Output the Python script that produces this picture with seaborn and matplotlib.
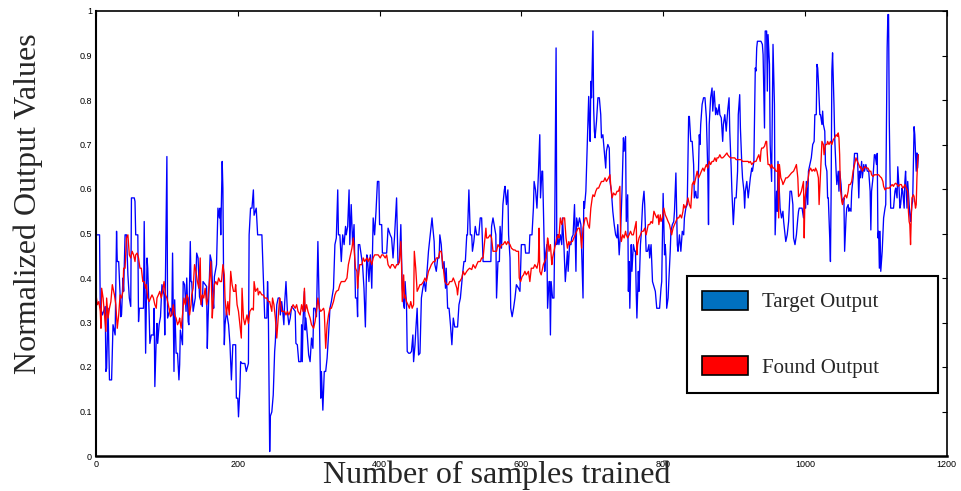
import matplotlib
matplotlib.use("Agg")
import matplotlib.pyplot as plt
from matplotlib.patches import Patch
import pandas as pd
import seaborn as sns

# Target output (network training targets), sample index -> normalized value
target_samples = [
    0, 5, 6, 9, 13, 14, 15, 17, 19, 22,
    24, 27, 29, 30, 32, 34, 35, 36, 38, 39,
    41, 43, 45, 47, 49, 50, 54, 55, 56, 59,
    60, 61, 67, 68, 70, 72, 73, 75, 76, 78,
    81, 82, 83, 85, 86, 87, 89, 91, 93, 96,
    97, 100, 101, 103, 105, 107, 108, 110, 111, 113,
    115, 117, 118, 119, 122, 123, 125, 127, 128, 130,
    131, 133, 134, 135, 137, 140, 142, 144, 146, 150,
    151, 156, 157, 158, 161, 163, 165, 166, 167, 170,
    172, 174, 175, 176, 178, 179, 180, 181, 182, 184,
    187, 189, 191, 193, 197, 198, 200, 201, 203,
    204, 206, 210, 212, 215, 216, 218, 220, 222, 223,
    226, 228, 234, 236, 238, 241, 242, 243, 245, 246,
    248, 250, 252, 253, 255, 257, 259, 260, 262, 263,
    265, 266, 268, 270, 272, 274, 276, 278, 281, 282,
    284, 286, 289, 290, 291, 292, 294, 295, 296, 298,
    300, 302, 304, 306, 307, 309, 311, 313, 315, 317,
    318, 320, 322, 324, 326, 328, 330, 332, 335, 337,
    339, 341, 342, 344, 346, 348, 350, 352, 353, 355,
    357, 358, 360, 362, 364, 366, 368, 369, 370, 372,
    374, 376, 378, 380, 382, 383, 385, 387, 389, 391,
    393, 395, 397, 399, 400,
    403, 404, 410, 412, 415, 417, 419, 421, 424, 426,
    428, 430, 432, 434, 435, 436, 438, 439, 441, 443,
    445, 447, 448, 450, 451, 453, 455, 457, 459, 461,
    463, 465, 467, 469, 471, 474, 475, 477, 478, 480,
    482, 484, 485, 487, 489, 491, 493, 494, 496, 498,
    500, 502, 504, 506, 510, 512, 514, 517, 519, 521,
    523, 524, 526, 528, 530, 531, 533, 535, 537, 540,
    542, 544, 546, 557, 558, 560, 562, 564, 565, 567,
    569, 570, 572, 574, 576, 577, 579, 581, 582, 584,
    585, 587, 589, 591, 593, 596, 598,
    600, 605, 606, 611, 612, 615, 617, 618, 620, 622,
    624, 626, 627, 629, 630, 632, 633, 634, 636, 637,
    639, 640, 641, 642, 644, 646, 647, 649, 650, 651,
    653, 655, 657, 658, 660, 662, 663, 665, 666, 668,
    670, 671, 673, 675, 677, 678, 680, 682, 684, 685,
    687, 688, 689, 691, 693, 695, 696, 697, 698, 699,
    701, 702, 703, 704, 706, 708, 710, 712, 713, 715,
    717, 719, 720, 722, 724, 725, 727, 729, 731, 733,
    735, 736, 738, 740, 742, 744, 745, 747, 748, 750,
    751, 752, 753, 755, 756, 758, 760, 761, 762, 763,
    765, 766, 768, 769, 771, 773, 774, 776, 778, 780,
    781, 783, 785, 789, 791, 795,
    797, 798, 800, 802, 803, 804, 805, 807, 808, 810,
    811, 813, 815, 816, 818, 820, 821, 823, 825, 827,
    829, 830, 832, 834, 836, 837, 839, 841, 843, 844,
    846, 847, 849, 851, 852, 853, 855, 857, 859, 861,
    863, 864, 865, 867, 869, 870, 872, 874, 875, 877,
    879, 880, 882, 884, 885, 887, 889, 891, 893, 894,
    896, 897, 899, 901, 903, 905, 906, 908, 909, 911,
    912, 914, 915, 916, 918, 920, 921, 923, 925, 926,
    928, 930, 931, 932, 933, 935, 937, 938, 940, 941,
    943, 944, 946, 947, 948, 950, 951, 953, 954, 955,
    957, 958, 960, 961, 962, 964, 965, 967, 969, 970,
    972, 973, 975, 977, 979, 981, 983, 984, 986, 988,
    990, 991,
    992, 996, 998, 999, 1001, 1002, 1004, 1005, 1007, 1009,
    1011, 1013, 1014, 1016, 1017, 1018, 1019, 1021, 1022, 1024,
    1025, 1026, 1028, 1029, 1031, 1032, 1033, 1035, 1036, 1037,
    1038, 1039, 1041, 1042, 1044, 1045, 1047, 1048, 1049, 1051,
    1052, 1054, 1055, 1056, 1058, 1059, 1061, 1062, 1063, 1065,
    1066, 1068, 1070, 1074, 1076, 1077, 1078, 1080, 1081, 1083,
    1084, 1086, 1088, 1090, 1092, 1093, 1094, 1096, 1098, 1099,
    1101, 1102, 1103, 1104, 1105, 1106, 1107, 1109, 1110, 1111,
    1113, 1114, 1116, 1117, 1118, 1119, 1120, 1121, 1123, 1125,
    1127, 1128, 1130, 1131, 1133, 1134, 1135, 1137, 1138, 1140,
    1141, 1142, 1144, 1145, 1147, 1148, 1149, 1151, 1152, 1154,
    1155, 1157, 1158, 1159, 1160,
]
target_values = [
    .497, .497, .336, .317, .336, .19, .197, .332, .171, .171,
    .295, .272, .505, .437, .437, .362, .313, .317, .40, .37,
    .497, .497, .407, .355, .336, .58, .58, .572, .497, .497,
    .302, .332, .332, .527, .231, .445, .422, .317, .253, .272,
    .272, .332, .156, .265, .298, .253, .295, .313, .385, .362,
    .272, .673, .31, .321, .332, .317, .456, .19, .351, .231,
    .231, .171, .205, .283, .25, .392, .385, .325, .40, .302,
    .295, .482, .392, .392, .325, .355, .456, .445, .358, .336,
    .392, .381, .242, .302, .452, .437, .355, .332, .403, .43,
    .557, .535, .557, .497, .662, .602, .392, .25, .295, .325,
    .295, .25, .171, .25, .25, .13, .13, .088, .152,
    .212, .208, .208, .19, .208, .497, .557, .557, .598, .541,
    .557, .497, .497, .40, .31, .31, .392, .34, .01, .09,
    .099, .137, .235, .257, .34, .355, .355, .317, .347, .332,
    .295, .34, .392, .325, .295, .31, .336, .332, .325, .253,
    .25, .212, .212, .295, .212, .302, .37, .283, .31, .272,
    .227, .212, .265, .242, .332, .332, .313, .482, .325, .13,
    .19, .103, .19, .19, .22, .272, .332, .347, .377, .475,
    .49, .598, .497, .497, .437, .497, .475, .516, .497, .516,
    .598, .475, .565, .475, .52, .355, .355, .313, .475, .475,
    .452, .43, .377, .29, .452, .445, .392, .452, .377, .535,
    .497, .55, .617, .617, .52,
    .52, .456, .456, .512, .497, .49, .445, .49, .58, .43,
    .437, .52, .377, .34, .332, .392, .34, .235, .231, .231,
    .235, .272, .212, .25, .28, .332, .227, .231, .355, .377,
    .392, .37, .415, .46, .49, .535, .516, .482, .43, .415,
    .445, .445, .497, .475, .422, .437, .377, .422, .332, .332,
    .295, .25, .31, .29, .29, .34, .355, .407, .437, .437,
    .497, .497, .598, .497, .497, .46, .482, .516, .497, .497,
    .535, .535, .437, .437, .516, .535, .516, .497, .355, .437,
    .437, .516, .467, .565, .598, .606, .565, .598, .497, .445,
    .332, .313, .332, .355, .385, .377, .37,
    .475, .475, .456, .456, .497, .497, .557, .617, .598, .557,
    .632, .722, .58, .64, .64, .497, .415, .452, .475, .332,
    .392, .392, .272, .392, .355, .355, .497, .917, .475, .497,
    .475, .497, .475, .535, .475, .392, .415, .46, .415, .475,
    .475, .49, .497, .565, .415, .535, .516, .535, .52, .467,
    .355, .572, .557, .595, .70, .808, .745, .707, .842, .805,
    .955, .782, .73, .715, .752, .805, .805, .767, .715, .722,
    .685, .647, .685, .70, .692, .617, .595, .55, .52, .497,
    .49, .52, .452, .505, .595, .715, .685, .718, .527, .587,
    .37, .437, .332, .475, .415, .475, .46, .46, .37, .31,
    .415, .37, .475, .497, .565, .595, .565, .46, .46, .475,
    .445, .475, .392, .37, .332, .332,
    .377, .392, .59, .452, .475, .445, .332, .355, .392, .46,
    .505, .52, .527, .55, .636, .475, .46, .497, .46, .505,
    .497, .535, .557, .565, .763, .763, .707, .707, .655, .58,
    .595, .58, .58, .722, .70, .745, .79, .805, .805, .76,
    .64, .52, .745, .805, .827, .775, .82, .767, .782, .767,
    .79, .767, .76, .707, .745, .767, .73, .775, .805, .73,
    .647, .595, .52, .58, .58, .64, .767, .812, .737, .655,
    .625, .595, .557, .595, .617, .58, .595, .625, .647, .64,
    .662, .872, .865, .917, .932, .932, .932, .932, .925, .902,
    .737, .955, .955, .82, .947, .88, .70, .617, .767, .925,
    .79, .497, .595, .55, .662, .595, .557, .535, .55, .527,
    .497, .482, .497, .527, .595, .595, .565, .49, .475, .497,
    .535, .55,
    .557, .557, .535, .557, .557, .617, .565, .64, .655, .67,
    .70, .707, .767, .767, .88, .872, .842, .767, .767, .745,
    .775, .745, .73, .655, .64, .58, .58, .49, .437, .595,
    .865, .906, .79, .715, .64, .61, .64, .595, .64, .61,
    .58, .572, .58, .46, .535, .557, .565, .55, .557, .55,
    .595, .625, .68, .68, .58, .64, .625, .662, .625, .655,
    .64, .655, .64, .64, .595, .508, .595, .625, .677, .677,
    .655, .68, .49, .505, .422, .505, .415, .46, .497, .535,
    .557, .565, .917, .992, .992, .752, .64, .557, .557, .557,
    .595, .602, .58, .65, .595, .557, .565, .602, .595, .557,
    .617, .64, .557, .617, .565, .542, .527, .565, .572, .74,
    .722, .64, .681, .647, .677,
]

# Found output (network prediction)
found_samples = [
    0, 2, 4, 6, 7, 8, 10, 12, 14, 15,
    17, 19, 21, 23, 24, 26, 28, 30, 32, 34,
    36, 38, 39, 41, 43, 45, 47, 49, 51, 53,
    55, 56, 58, 60, 62, 64, 66, 68, 70, 71,
    73, 75, 77, 79, 81, 83, 85, 86, 88, 90,
    92, 94, 96, 98, 100, 102, 103, 105, 107, 109,
    111, 113, 115, 117, 118, 120, 122, 124, 126, 128,
    130, 132, 134, 135, 137, 139, 141, 143, 145, 147,
    148, 150, 152, 154, 156, 158, 160, 162, 164, 165,
    167, 169, 171, 173, 175, 177, 179, 181, 182, 184,
    186, 188, 190, 192, 194, 196, 197, 199, 201, 203,
    205, 206, 208, 210, 213, 215, 217, 220, 222, 223,
    225, 228, 229, 231, 234, 236, 238, 241, 243, 245,
    248, 249, 251, 253, 255, 257, 259, 260, 262, 264,
    266, 268, 270, 272, 274, 276, 278, 281, 283, 285,
    288, 290, 292, 294, 295, 297, 299, 302, 304, 307,
    309, 311, 313, 315, 317, 319, 321, 322, 324, 326,
    328, 330, 332, 335, 337, 339, 342, 344, 346, 349,
    351, 354, 356, 358, 361, 363, 364, 366, 368, 369,
    370, 372, 375, 377, 379, 382, 384, 386, 389, 391,
    393, 396, 398, 401,
    403, 405, 408, 410, 412, 415, 417, 419, 422, 424,
    426, 428, 430, 431, 432, 434, 435, 436, 438, 440,
    442, 444, 446, 448, 449, 451, 453, 455, 457, 459,
    462, 464, 466, 469, 471, 473, 476, 478, 480, 483,
    485, 487, 490, 492, 495, 497, 499, 502, 504, 506,
    509, 510, 512, 513, 516, 518, 520, 523, 525, 527,
    530, 532, 535, 537, 539, 542, 544, 546, 549, 550,
    551, 553, 556, 558, 560, 563, 565, 567, 570, 572,
    574, 577, 579, 581, 584,
    586, 589, 591, 593, 596, 597, 599, 601, 603, 605,
    607, 610, 612, 614, 617, 619, 622, 624, 625, 626,
    628, 629, 631, 633, 635, 637, 638, 639, 641, 643,
    644, 646, 648, 650, 652, 653, 655, 657, 659, 661,
    663, 665, 667, 668, 670, 672, 674, 676, 678, 680,
    682, 684, 685, 687, 690, 692, 694, 696, 698, 700,
    701, 703, 705, 707, 709, 711, 713, 716, 718, 720,
    723, 725, 726, 728, 730, 732, 733, 735, 737, 739,
    740, 741, 743, 745, 747, 748, 750, 752, 754, 756,
    758, 760, 762, 763, 764, 766, 768, 770, 772, 774,
    776, 778, 779, 781, 783, 785, 787, 789, 791, 793,
    794,
    796, 797, 799, 801, 803, 805, 807, 809, 811, 812,
    814, 816, 818, 820, 822, 824, 826, 828, 829, 831,
    833, 835, 837, 839, 841, 843, 844, 846, 848, 850,
    852, 854, 856, 858, 859, 861, 863, 865, 867, 869,
    871, 873, 875, 876, 878, 880, 882, 884, 886, 888,
    890, 891, 893, 895, 897, 899, 901, 903, 905, 906,
    908, 910, 912, 914, 916, 918, 920, 921, 923, 925,
    927, 929, 931, 933, 935, 937, 938, 939, 941, 943,
    945, 946, 947, 948, 950, 952, 953, 955, 957, 959,
    961, 962, 963, 964, 966, 968, 969, 971, 973, 975,
    977, 979,
    981, 984, 986, 988, 990, 991, 993, 995, 997, 998,
    999, 1000, 1002, 1004, 1006, 1008, 1010, 1012, 1014, 1015,
    1017, 1019, 1020, 1022, 1023, 1024, 1026, 1027, 1029, 1031,
    1032, 1034, 1036, 1038, 1040, 1042, 1044, 1046, 1047, 1048,
    1049, 1050, 1052, 1053, 1055, 1057, 1059, 1061, 1062, 1064,
    1066, 1068, 1070, 1072, 1074, 1076, 1078, 1079, 1081, 1083,
    1085, 1087, 1089, 1091, 1093, 1094, 1096, 1098, 1100, 1102,
    1104, 1106, 1108, 1110, 1111, 1113, 1115, 1117, 1119, 1121,
    1123, 1125, 1126, 1128, 1130, 1132, 1134, 1136, 1138, 1140,
    1141, 1143, 1145, 1146, 1147, 1148, 1149, 1150, 1151, 1153,
    1154, 1156, 1157, 1158, 1159, 1160,
]
found_values = [
    .362, .34, .347, .325, .287, .377, .355, .317, .28, .355,
    .31, .332, .347, .385, .377, .362, .34, .287, .317, .362,
    .355, .37, .422, .422, .49, .497, .452, .445, .46, .452,
    .437, .452, .456, .445, .422, .422, .392, .392, .377, .385,
    .355, .347, .355, .362, .355, .34, .332, .355, .362, .37,
    .355, .37, .392, .362, .355, .34, .332, .313, .317, .34,
    .317, .31, .295, .302, .31, .287, .317, .355, .34, .362,
    .355, .317, .34, .362, .377, .43, .415, .392, .377, .445,
    .34, .362, .355, .377, .34, .355, .392, .437, .31, .34,
    .385, .392, .385, .40, .392, .392, .43, .407, .355, .317,
    .347, .317, .415, .385, .37, .37, .385, .34, .325, .295,
    .265, .377, .31, .295, .317, .298, .325, .332, .328, .392,
    .37, .377, .362, .37, .362, .362, .355, .355, .347, .347,
    .325, .355, .34, .31, .265, .31, .355, .347, .325, .325,
    .325, .317, .325, .317, .325, .332, .34, .332, .34, .325,
    .317, .34, .325, .377, .325, .34, .325, .31, .295, .287,
    .302, .325, .355, .332, .325, .328, .332, .325, .242, .295,
    .317, .332, .332, .347, .362, .37, .373, .385, .392, .392,
    .392, .40, .43, .445, .467, .49, .467, .422, .415, .377,
    .40, .43, .43, .445, .437, .445, .437, .445, .43, .445,
    .452, .452, .452, .445,
    .452, .452, .445, .452, .43, .422, .43, .43, .422, .43,
    .43, .437, .482, .43, .347, .407, .355, .362, .347, .34,
    .332, .347, .332, .34, .46, .422, .37, .377, .385, .385,
    .392, .40, .392, .415, .422, .43, .437, .437, .445, .445,
    .46, .46, .422, .392, .385, .385, .392, .392, .40, .392,
    .377, .362, .392, .392, .40, .415, .407, .415, .419, .422,
    .419, .43, .422, .43, .437, .437, .445, .445, .497, .512,
    .49, .49, .497, .49, .46, .46, .46, .475, .467, .475,
    .475, .482, .475, .482, .475,
    .467, .463, .463, .46, .46, .40, .392, .403, .407, .415,
    .407, .415, .392, .422, .422, .43, .422, .437, .512, .415,
    .407, .415, .43, .437, .445, .49, .482, .46, .475, .43,
    .445, .46, .475, .49, .497, .49, .535, .52, .535, .535,
    .49, .467, .482, .475, .482, .482, .49, .497, .505, .512,
    .512, .49, .467, .512, .535, .535, .52, .512, .557, .58,
    .587, .583, .595, .602, .602, .61, .617, .617, .625, .617,
    .625, .632, .61, .58, .591, .587, .587, .595, .595, .606,
    .497, .482, .497, .49, .505, .497, .49, .497, .505, .497,
    .497, .512, .527, .452, .475, .49, .497, .505, .505, .512,
    .497, .512, .52, .52, .527, .523, .55, .542, .535, .542,
    .52,
    .542, .527, .535, .557, .542, .535, .527, .52, .505, .497,
    .512, .52, .527, .535, .535, .542, .535, .55, .565, .557,
    .565, .58, .565, .557, .61, .617, .61, .625, .64, .625,
    .632, .64, .647, .64, .647, .655, .647, .662, .655, .662,
    .662, .67, .662, .67, .67, .677, .67, .67, .673, .677,
    .681, .677, .673, .67, .67, .67, .67, .666, .666, .666,
    .666, .666, .662, .662, .662, .662, .662, .659, .662, .655,
    .659, .662, .662, .67, .677, .662, .685, .692, .692, .696,
    .707, .707, .677, .655, .655, .647, .655, .647, .647, .64,
    .64, .655, .535, .655, .625, .617, .61, .617, .625, .625,
    .628, .632,
    .636, .64, .647, .655, .625, .583, .587, .595, .61, .617,
    .49, .58, .602, .617, .64, .647, .64, .644, .64, .647,
    .64, .625, .565, .632, .67, .707, .70, .677, .70, .70,
    .707, .70, .707, .70, .711, .715, .722, .718, .726, .715,
    .677, .602, .572, .565, .58, .587, .58, .595, .61, .61,
    .617, .64, .655, .67, .662, .655, .647, .65, .64, .647,
    .65, .647, .647, .64, .64, .632, .628, .632, .632, .632,
    .632, .628, .625, .617, .606, .598, .602, .602, .602, .606,
    .61, .606, .61, .613, .61, .606, .61, .61, .602, .606,
    .61, .602, .595, .55, .527, .52, .475, .535, .58, .587,
    .583, .557, .565, .625, .662, .677,
]

x_ticks = [0, 200, 400, 600, 800, 1000, 1200]
y_ticks = [0, 0.1, 0.2, 0.3, 0.4, 0.5, 0.6, 0.7, 0.8, 0.9, 1.0]
y_tick_labels = ["0", "0.1", "0.2", "0.3", "0.4", "0.5", "0.6", "0.7", "0.8", "0.9", "1"]
legend_labels = ["Target Output", "Found Output"]
x_title = "Number of samples trained"
y_title = "Normalized Output Values"

assert len(target_samples) == len(target_values), (len(target_samples), len(target_values))
assert len(found_samples) == len(found_values), (len(found_samples), len(found_values))

sns.set_style("white")
plt.rcParams["font.family"] = ["Liberation Sans", "DejaVu Sans"]
serif = ["Liberation Serif", "DejaVu Serif"]

target = pd.DataFrame({"sample": target_samples, "value": target_values})
found = pd.DataFrame({"sample": found_samples, "value": found_values})

fig = plt.figure(figsize=(9.61, 4.91), dpi=100)
ax = fig.add_axes([96 / 961, 35 / 491, 850.7 / 961, 445 / 491])

sns.lineplot(data=target, x="sample", y="value", color="#0000FF", linewidth=0.95,
             estimator=None, sort=False, ax=ax)
sns.lineplot(data=found, x="sample", y="value", color="#FF0000", linewidth=0.95,
             estimator=None, sort=False, ax=ax)

ax.set_xlim(0, 1200)
ax.set_ylim(0, 1)
ax.set_xticks(x_ticks)
ax.set_xticklabels([str(t) for t in x_ticks])
ax.set_yticks(y_ticks)
ax.set_yticklabels(y_tick_labels)
ax.tick_params(direction="in", length=3.5, width=0.8, top=True, right=True,
               labelsize=6.5, pad=3, colors="black")
ax.set_xlabel("")
ax.set_ylabel("")
for spine in ax.spines.values():
    spine.set_color("black")
    spine.set_linewidth(1.2)
ax.spines["bottom"].set_linewidth(1.8)
ax.spines["left"].set_linewidth(1.5)

fig.text(28 / 961, 1 - 204 / 491, y_title, rotation=90, family=serif,
         fontsize=23, ha="center", va="center")
fig.text(496.5 / 961, 8 / 491, x_title, family=serif, fontsize=23,
         ha="center", va="baseline")

handles = [Patch(facecolor="#0070C0", edgecolor="black", linewidth=1.2),
           Patch(facecolor="#FF0000", edgecolor="black", linewidth=1.2)]
leg = ax.legend(handles, legend_labels, loc="upper left",
                bbox_to_anchor=(0.6947, 0.1348, 0.2951, 0.2697), mode="expand",
                prop={"family": serif, "size": 15}, frameon=True, fancybox=False,
                framealpha=1, edgecolor="black", handlelength=2.2, handleheight=1.0,
                handletextpad=0.7, labelspacing=2.1, borderpad=0.72, borderaxespad=0)
leg.get_frame().set_linewidth(1.5)

fig.savefig("out.png", dpi=100, facecolor="white")
